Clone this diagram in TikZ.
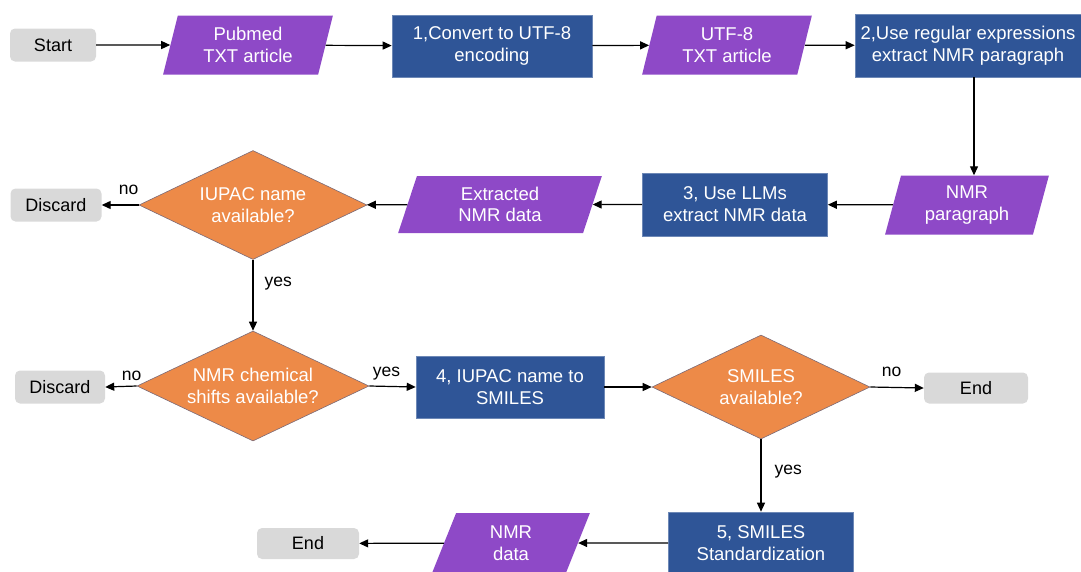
\documentclass[tikz,border=0pt]{standalone}
\usepackage{fontspec}
\setmainfont{Liberation Sans}
\usetikzlibrary{shapes.geometric,arrows.meta}
\definecolor{iopurple}{RGB}{142,73,199}
\definecolor{stepblue}{RGB}{47,85,151}
\definecolor{testorange}{RGB}{237,138,72}
\definecolor{termgray}{RGB}{217,217,217}
\begin{document}
\begin{tikzpicture}[x=1pt,y=-1pt,
  term/.style={rectangle,rounded corners=5pt,fill=termgray,text=black,inner sep=0pt,
    font=\fontsize{18}{20}\selectfont},
  io/.style={trapezium,trapezium left angle=75,trapezium right angle=105,trapezium stretches=true,
    fill=iopurple,text=white,inner sep=0pt,align=center,font=\fontsize{18.5}{21.5}\selectfont},
  proc/.style={rectangle,fill=stepblue,draw=stepblue!70!white,line width=0.6pt,text=white,inner sep=0pt,
    align=center,font=\fontsize{18.5}{22}\selectfont},
  test/.style={diamond,aspect=2.1,fill=testorange,draw=stepblue!60!testorange,line width=0.6pt,text=white,
    inner sep=0pt,align=center,font=\fontsize{18.5}{22}\selectfont},
  lbl/.style={font=\fontsize{17.5}{19}\selectfont,text=black,inner sep=1pt},
  flow/.style={-{Triangle[length=9pt,width=8pt]},line width=1.2pt}]
\useasboundingbox (0,0) rectangle (1081,571);

\node[term,minimum width=86,minimum height=33] (start) at (53,45) {Start};
\node[io,minimum width=170,minimum height=59] (pubmed) at (248,45) {Pubmed\\TXT article};
\node[proc,minimum width=200,minimum height=62] (convert) at (492,46) {1,Convert to UTF-8\\encoding};
\node[io,minimum width=170,minimum height=59] (utftxt) at (727,45) {UTF-8\\TXT article};
\node[proc,minimum width=226,minimum height=63] (regex) at (968,45.5) {2,Use regular expressions\\extract NMR paragraph};
\coordinate (regexdown) at (974,77);

\node[io,minimum width=164,minimum height=59] (nmrpara) at (967,205) {NMR\\paragraph};
\node[proc,minimum width=185,minimum height=63] (llm) at (735,204.5) {3, Use LLMs\\extract NMR data};
\node[io,minimum width=204,minimum height=57] (extracted) at (500,204.5) {Extracted\\NMR data};
\node[test,minimum width=228,minimum height=109] (iupac) at (253,205) {IUPAC name\\available?};
\node[term,minimum width=91,minimum height=33] (discardA) at (56,205) {Discard};

\node[test,minimum width=232,minimum height=110] (shifts) at (253,386) {NMR chemical\\shifts available?};
\node[term,minimum width=90,minimum height=33] (discardB) at (60,387) {Discard};
\node[proc,minimum width=188,minimum height=62] (tosmiles) at (510,387) {4, IUPAC name to\\SMILES};
\node[test,minimum width=218,minimum height=104] (smiles) at (761,387) {SMILES\\available?};
\node[term,minimum width=104,minimum height=31] (endA) at (976,388) {End};

\node[proc,minimum width=185,minimum height=62] (stdz) at (761,543) {5, SMILES\\Standardization};
\node[io,minimum width=158,minimum height=60] (nmrdata) at (511,543) {NMR\\data};
\node[term,minimum width=102,minimum height=31] (endB) at (308,543.5) {End};

\draw[flow] (start) -- (pubmed);
\draw[flow] (pubmed) -- (convert);
\draw[flow] (convert) -- (utftxt);
\draw[flow] (utftxt) -- (regex);
\draw[flow] (regexdown) -- (regexdown |- nmrpara.north);
\draw[flow] (nmrpara) -- (llm);
\draw[flow] (llm) -- (extracted);
\draw[flow] (extracted) -- (iupac);
\draw[flow] (iupac.west) -- node[lbl,pos=0.27,above=9pt] {no} (discardA.east);
\draw[flow] (iupac.south) -- node[lbl,pos=0.33,right=10pt] {yes} (shifts.north);
\draw[flow] (shifts.west) -- node[lbl,pos=0.16,above=4pt] {no} (discardB.east);
\draw[flow] (shifts.east) -- node[lbl,pos=0.37,above=5pt] {yes} (tosmiles.west);
\draw[flow] (tosmiles) -- (smiles);
\draw[flow] (smiles.east) -- node[lbl,pos=0.4,above=9pt] {no} (endA.west);
\draw[flow] (smiles.south) -- node[lbl,pos=0.44,right=12pt] {yes} (stdz.north);
\draw[flow] (stdz) -- (nmrdata);
\draw[flow] (nmrdata) -- (endB);
\end{tikzpicture}
\end{document}
